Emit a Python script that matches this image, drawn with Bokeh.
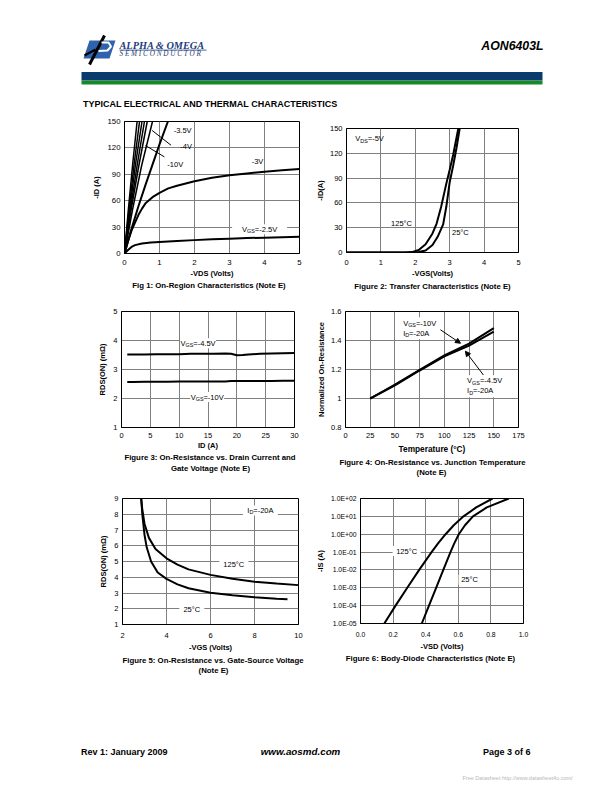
from bokeh.plotting import figure
from bokeh.layouts import column, row
from bokeh.models import Range1d, FixedTicker, Label, Arrow, NormalHead
from bokeh.embed import file_html
from bokeh.resources import INLINE
from bokeh.core.properties import value

FONT = "Liberation Sans"
SERIF = "Liberation Serif"
GRID = "#808080"

# ---------------- data ----------------
# Figure 1: On-region characteristics (-ID vs -VDS)
f1_xticks = [0, 1, 2, 3, 4, 5]
f1_yticks = [0, 30, 60, 90, 120, 150]
f1_steep_vgs = ["-10V", "-8V", "-6V", "-5V", "-4.5V", "-4V"]
f1_steep_id = [0, 50, 100, 150]
f1_steep_vds = [
    [0, 0.11, 0.23, 0.36],
    [0, 0.13, 0.27, 0.43],
    [0, 0.15, 0.31, 0.50],
    [0, 0.17, 0.36, 0.57],
    [0, 0.19, 0.41, 0.65],
    [0, 0.23, 0.49, 0.80],
]
f1_vds_35 = [0, 0.2, 0.4, 0.6, 0.8, 1.0, 1.24]
f1_id_35 = [0, 28, 54, 78, 101, 124, 150]
f1_vds_30 = [0, 0.1, 0.2, 0.3, 0.4, 0.5, 0.6, 0.8, 1, 1.25, 1.5, 2, 2.5, 3, 3.5, 4, 4.5, 5]
f1_id_30 = [0, 14, 26, 35, 44, 51, 57, 64, 69, 74, 77, 82, 86, 89, 91, 93, 94.5, 96]
f1_vds_25 = [0, 0.1, 0.2, 0.3, 0.5, 0.75, 1, 1.5, 2, 2.5, 3, 3.5, 4, 4.5, 5]
f1_id_25 = [0, 4, 7.5, 9.5, 11.3, 12.4, 13.2, 14.3, 15.2, 16.1, 16.9, 17.5, 18.0, 18.5, 19.0]

# Figure 2: Transfer characteristics (-ID vs -VGS), VDS=-5V
f2_xticks = [0, 1, 2, 3, 4, 5]
f2_yticks = [0, 30, 60, 90, 120, 150]
f2_vgs_125 = [0, 1.7, 1.9, 2.1, 2.3, 2.5, 2.62, 2.75, 2.9, 3.0, 3.1, 3.25]
f2_id_125 = [0, 0, 0.5, 3, 10, 23, 35, 55, 83, 100, 118, 150]
f2_vgs_25 = [0, 1.95, 2.1, 2.3, 2.5, 2.65, 2.81, 2.9, 3.0, 3.1, 3.2, 3.29]
f2_id_25 = [0, 0, 0.5, 2.5, 9, 19, 34, 55, 85, 105, 127, 150]

# Figure 3: On-resistance vs drain current (mOhm)
f3_xticks = [0, 5, 10, 15, 20, 25, 30]
f3_yticks = [1, 2, 3, 4, 5]
f3_id = [1, 2, 4, 6, 8, 10, 12, 14, 16, 18, 19, 20, 21, 22, 24, 26, 28, 30]
f3_r_45 = [3.52, 3.52, 3.52, 3.53, 3.53, 3.53, 3.54, 3.54, 3.54, 3.55, 3.54, 3.49, 3.50, 3.52, 3.54, 3.55, 3.56, 3.57]
f3_r_10 = [2.57, 2.57, 2.58, 2.58, 2.58, 2.59, 2.59, 2.59, 2.59, 2.59, 2.60, 2.60, 2.60, 2.60, 2.60, 2.60, 2.61, 2.61]

# Figure 4: Normalized on-resistance vs junction temperature
f4_xticks = [0, 25, 50, 75, 100, 125, 150, 175]
f4_yticks = [0.8, 1.0, 1.2, 1.4, 1.6]
f4_ylabels = ["0.8", "1", "1.2", "1.4", "1.6"]
f4_temp = [25, 50, 75, 100, 125, 150]
f4_r_10 = [1.0, 1.095, 1.198, 1.297, 1.378, 1.485]
f4_r_45 = [1.0, 1.09, 1.193, 1.29, 1.365, 1.462]

# Figure 5: On-resistance vs gate-source voltage (ID=-20A)
f5_xticks = [2, 4, 6, 8, 10]
f5_yticks = [1, 2, 3, 4, 5, 6, 7, 8, 9]
f5_vgs_125 = [2.85, 2.9, 3.0, 3.2, 3.5, 4.0, 4.5, 5, 6, 7, 8, 9, 10]
f5_r_125 = [9, 8.3, 7.4, 6.5, 5.8, 5.2, 4.8, 4.5, 4.15, 3.9, 3.72, 3.6, 3.5]
f5_vgs_25 = [2.85, 2.9, 3.0, 3.1, 3.3, 3.6, 4.0, 4.5, 5, 6, 7, 8, 9, 9.5]
f5_r_25 = [9, 8.0, 6.7, 5.9, 5.0, 4.3, 3.9, 3.55, 3.3, 3.02, 2.85, 2.73, 2.63, 2.6]

# Figure 6: Body-diode characteristics (-IS vs -VSD), log scale
f6_xticks = [0.0, 0.2, 0.4, 0.6, 0.8, 1.0]
f6_xlabels = ["0.0", "0.2", "0.4", "0.6", "0.8", "1.0"]
f6_yticks = [1e-5, 1e-4, 1e-3, 1e-2, 1e-1, 1e0, 1e1, 1e2]
f6_ylabels = ["1.0E-05", "1.0E-04", "1.0E-03", "1.0E-02", "1.0E-01", "1.0E+00", "1.0E+01", "1.0E+02"]
f6_is = [1e-5, 1e-4, 1e-3, 1e-2, 1e-1, 0.316, 1, 3.16, 10, 31.6, 100]
f6_vsd_125 = [0.146, 0.215, 0.287, 0.36, 0.436, 0.477, 0.522, 0.572, 0.632, 0.71, 0.81]
f6_vsd_25 = [0.376, 0.42, 0.464, 0.508, 0.552, 0.576, 0.603, 0.641, 0.69, 0.775, 0.91]

# ---------------- helpers ----------------
CW = {'V': .667, 'G': .778, 'S': .667, 'D': .722, 'I': .278, '=': .584, '-': .333,
      '.': .278, 'A': .667, 'C': .722, '°': .4, ' ': .278}


def tw(text, fs):
    return sum(CW.get(c, .556) for c in text) * fs


def sub_label(p, x, y, parts, fs=7.5, anchor="center"):
    sizes = [fs * 0.72 if s else fs for _, s in parts]
    widths = [tw(t, z) for (t, _), z in zip(parts, sizes)]
    off = -sum(widths) / 2 if anchor == "center" else 0
    for (t, s), z, w in zip(parts, sizes, widths):
        p.add_layout(Label(x=x, y=y, x_offset=off, y_offset=-2 if s else 0, text=t,
                           text_font=FONT, text_font_size=f"{z:.1f}px",
                           text_baseline="middle", text_align="left", text_color="black"))
        off += w


def bg(p, x, y, w, h):
    p.rect(x=[x], y=[y], width=[w], height=[h], width_units="screen", height_units="screen",
           fill_color="white", line_color=None)


def chart(w, h, bl, br, bt, bb, xr, yr, xticks, yticks, xlabel, ylabel,
          tick_fs=7.5, xl_fs=7.5, yl_fs=7.5, xso=6, xlso=2, ylog=False):
    p = figure(width=w, height=h, x_range=Range1d(*xr), y_range=Range1d(*yr),
               y_axis_type="log" if ylog else "linear", toolbar_location=None,
               output_backend="svg", title=None,
               min_border_left=bl, min_border_right=br, min_border_top=bt, min_border_bottom=bb)
    p.xaxis.ticker = FixedTicker(ticks=xticks)
    p.yaxis.ticker = FixedTicker(ticks=yticks)
    p.outline_line_color = "black"
    p.outline_line_width = 1
    p.background_fill_color = "white"
    p.border_fill_color = "white"
    for ax in p.axis:
        ax.major_tick_out = 0
        ax.major_tick_in = 0
        ax.minor_tick_out = 0
        ax.minor_tick_in = 0
        ax.axis_line_color = "black"
        ax.major_label_text_font = FONT
        ax.major_label_text_font_size = f"{tick_fs}px"
        ax.major_label_text_color = "black"
        ax.major_label_standoff = 4
        ax.axis_label_text_font = FONT
        ax.axis_label_text_font_style = "bold"
        ax.axis_label_text_color = "black"
        ax.axis_label_standoff = 3
    p.xaxis.major_label_standoff = xso
    p.xaxis.axis_label_standoff = xlso
    p.xaxis.axis_label = xlabel
    p.yaxis.axis_label = ylabel
    p.xaxis.axis_label_text_font_size = f"{xl_fs}px"
    p.yaxis.axis_label_text_font_size = f"{yl_fs}px"
    p.grid.grid_line_color = GRID
    p.grid.grid_line_width = 1
    return p


def page_fig(w, h, x0, x1, y0, y1):
    f = figure(width=w, height=h, x_range=Range1d(x0, x1), y_range=Range1d(y1, y0),
               toolbar_location=None, output_backend="svg", title=None, min_border=0)
    f.axis.visible = False
    f.grid.visible = False
    f.outline_line_color = None
    f.background_fill_color = "white"
    f.border_fill_color = "white"
    return f


CAP_FS = "7.8px"


def caption(w, h, x0, x1, y0, y1, lines):
    f = page_fig(w, h, x0, x1, y0, y1)
    for (cx, cy, t) in lines:
        f.text(x=[cx], y=[cy], text=[t], text_font=value(FONT), text_font_size=CAP_FS,
               text_font_style="bold", text_color="black", text_baseline="middle", text_align="center")
    return f


# ---------------- Figure 1 ----------------
p1 = chart(312, 165, 124, 13, 6, 27, (0, 5), (0, 150), f1_xticks, f1_yticks,
           "-VDS (Volts)", "-ID (A)", tick_fs=7.8, xso=6, xlso=1)
bg(p1, 3.86, 27.5, 55, 10)
for xs in f1_steep_vds:
    p1.line(xs, f1_steep_id, line_color="black", line_width=1.5)
p1.line(f1_vds_35, f1_id_35, line_color="black", line_width=2)
p1.line(f1_vds_30, f1_id_30, line_color="black", line_width=2)
p1.line(f1_vds_25, f1_id_25, line_color="black", line_width=2)
p1.segment(x0=[1.33, 1.14], y0=[123.0, 109.8], x1=[0.79, 0.60], y1=[139.8, 122.7],
           line_color="black", line_width=1)
sub_label(p1, 1.66, 139.8, [("-3.5V", 0)])
sub_label(p1, 1.76, 121.6, [("-4V", 0)])
sub_label(p1, 1.45, 101.0, [("-10V", 0)])
sub_label(p1, 3.80, 104.5, [("-3V", 0)])
sub_label(p1, 3.86, 27.5, [("V", 0), ("GS", 1), ("=-2.5V", 0)])
c1 = caption(312, 20, 0, 312, 280, 300, [(208.5, 284.5, "Fig 1: On-Region Characteristics (Note E)")])

# ---------------- Figure 2 ----------------
p2 = chart(296, 165, 34, 90, 13, 28, (0, 5), (0, 150), f2_xticks, f2_yticks,
           "-VGS(Volts)", "-ID(A)", xso=7, xlso=1)
p2.yaxis.axis_label_standoff = 2
p2.line(f2_vgs_125, f2_id_125, line_color="black", line_width=2)
p2.line(f2_vgs_25, f2_id_25, line_color="black", line_width=2)
sub_label(p2, 0.67, 137.9, [("V", 0), ("DS", 1), ("=-5V", 0)])
sub_label(p2, 1.60, 35.0, [("125°C", 0)])
sub_label(p2, 3.31, 24.2, [("25°C", 0)])
c2 = caption(296, 20, 312, 608, 280, 300, [(432, 285.5, "Figure 2: Transfer Characteristics (Note E)")])

# ---------------- Figure 3 ----------------
p3 = chart(312, 152, 121, 18, 11, 24, (0, 30), (1, 5), f3_xticks, f3_yticks,
           "ID (A)", "RDS(ON) (mΩ)", xso=5, xlso=0)
bg(p3, 13.27, 3.906, 36, 10)
bg(p3, 14.86, 2.05, 34, 10)
p3.line(f3_id, f3_r_45, line_color="black", line_width=2)
p3.line(f3_id, f3_r_10, line_color="black", line_width=2)
sub_label(p3, 13.27, 3.906, [("V", 0), ("GS", 1), ("=-4.5V", 0)])
sub_label(p3, 14.86, 2.05, [("V", 0), ("GS", 1), ("=-10V", 0)])
c3 = caption(312, 33, 0, 312, 452, 485, [(209.5, 456.8, "Figure 3: On-Resistance vs. Drain Current and"),
                                         (210, 468.3, "Gate Voltage (Note E)")])

# ---------------- Figure 4 ----------------
p4 = chart(296, 156, 33, 90, 11, 28, (0, 175), (0.8, 1.6), f4_xticks, f4_yticks,
           "Temperature (°C)", "Normalized On-Resistance", xl_fs=8.3, xso=5, xlso=3)
p4.yaxis.axis_label_standoff = 2
p4.yaxis.major_label_overrides = dict(zip(f4_yticks, f4_ylabels))
bg(p4, 75.3, 1.484, 40, 22)
bg(p4, 140.5, 1.084, 40, 22)
p4.line(f4_temp, f4_r_10, line_color="black", line_width=2)
p4.line(f4_temp, f4_r_45, line_color="black", line_width=2)
p4.add_layout(Arrow(end=NormalHead(size=5, fill_color="black", line_color="black"),
                    x_start=96, y_start=1.474, x_end=116.3, y_end=1.381, line_width=1))
p4.add_layout(Arrow(end=NormalHead(size=5, fill_color="black", line_color="black"),
                    x_start=139.5, y_start=1.162, x_end=121.3, y_end=1.326, line_width=1))
sub_label(p4, 58.3, 1.518, [("V", 0), ("GS", 1), ("=-10V", 0)], anchor="left")
sub_label(p4, 58.3, 1.450, [("I", 0), ("D", 1), ("=-20A", 0)], anchor="left")
sub_label(p4, 123.0, 1.121, [("V", 0), ("GS", 1), ("=-4.5V", 0)], anchor="left")
sub_label(p4, 123.0, 1.053, [("I", 0), ("D", 1), ("=-20A", 0)], anchor="left")
c4 = caption(296, 29, 312, 608, 456, 485, [(432, 461.7, "Figure 4: On-Resistance vs. Junction Temperature"),
                                           (431, 471.7, "(Note E)")])

# ---------------- Figure 5 ----------------
p5 = chart(312, 170, 122, 14, 13, 31, (2, 10), (1, 9), f5_xticks, f5_yticks,
           "-VGS (Volts)", "RDS(ON) (mΩ)", xso=8, xlso=2)
bg(p5, 8.27, 8.24, 35, 10)
bg(p5, 7.06, 4.81, 29, 10)
bg(p5, 5.15, 1.95, 25, 10)
p5.line(f5_vgs_125, f5_r_125, line_color="black", line_width=2)
p5.line(f5_vgs_25, f5_r_25, line_color="black", line_width=2)
sub_label(p5, 8.27, 8.24, [("I", 0), ("D", 1), ("=-20A", 0)])
sub_label(p5, 7.06, 4.81, [("125°C", 0)])
sub_label(p5, 5.15, 1.95, [("25°C", 0)])
c5 = caption(312, 35, 0, 312, 655, 690, [(212.5, 660, "Figure 5: On-Resistance vs. Gate-Source Voltage"),
                                         (213, 670, "(Note E)")])

# ---------------- Figure 6 ----------------
p6 = chart(296, 168, 45, 85, 13, 29, (0, 1), (1e-5, 1e2), f6_xticks, f6_yticks,
           "-VSD (Volts)", "-IS (A)", tick_fs=6.8, xso=8, xlso=2, ylog=True)
p6.xaxis.major_label_overrides = dict(zip(f6_xticks, f6_xlabels))
p6.yaxis.major_label_overrides = dict(zip(f6_yticks, f6_ylabels))
bg(p6, 0.283, 0.1137, 28, 10)
bg(p6, 0.669, 0.00278, 22, 10)
p6.line(f6_vsd_125, f6_is, line_color="black", line_width=2)
p6.line(f6_vsd_25, f6_is, line_color="black", line_width=2)
sub_label(p6, 0.283, 0.1137, [("125°C", 0)])
sub_label(p6, 0.669, 0.00278, [("25°C", 0)])
c6 = caption(296, 37, 312, 608, 653, 690, [(430, 658.3, "Figure 6: Body-Diode Characteristics (Note E)")])

# ---------------- header ----------------
hdr = page_fig(608, 115, 0, 608, 0, 115)
hdr.patch([83, 89, 115, 109], [58, 40, 40, 58], fill_color="#2f63ae", line_color=None)
hdr.line([89, 104], [64, 35], line_color="black", line_width=3)
hdr.line([84, 95], [55, 49], line_color="black", line_width=2)
hdr.line([101, 108, 110.5, 107, 98], [42, 42, 46, 50, 50.5], line_color="white", line_width=2)
hdr.text(x=[119], y=[45], text=["ALPHA & OMEGA"], text_font=value(SERIF), text_font_size="10.3px",
         text_font_style="bold italic", text_color="#1d3b7a", text_baseline="middle")
hdr.line([119, 206], [49.6, 49.6], line_color="#1d3b7a", line_width=0.8)
hdr.text(x=[119], y=[53.5], text=["S E M I C O N D U C T O R"], text_font=value(SERIF),
         text_font_size="7.2px", text_font_style="italic", text_color="#1d3b7a", text_baseline="middle")
hdr.text(x=[543], y=[45], text=["AON6403L"], text_font=value(FONT), text_font_size="12.3px",
         text_font_style="bold italic", text_color="black", text_baseline="middle", text_align="right")
hdr.quad(left=[81], right=[542], top=[71.5], bottom=[80], fill_color="#0b3a6c", line_color=None)
hdr.quad(left=[81], right=[542], top=[80], bottom=[84], fill_color="#17892b", line_color=None)
hdr.text(x=[82.5], y=[103], text=["TYPICAL ELECTRICAL AND THERMAL CHARACTERISTICS"],
         text_font=value(FONT), text_font_size="9px", text_font_style="bold",
         text_color="black", text_baseline="middle")

# ---------------- footer ----------------
ftr = page_fig(608, 94, 0, 608, 690, 784)
ftr.text(x=[80.5], y=[751], text=["Rev 1: January 2009"], text_font=value(FONT), text_font_size="9px",
         text_font_style="bold", text_color="black", text_baseline="middle")
ftr.text(x=[300], y=[751], text=["www.aosmd.com"], text_font=value(FONT), text_font_size="9.8px",
         text_font_style="bold italic", text_color="black", text_baseline="middle", text_align="center")
ftr.text(x=[530], y=[751], text=["Page 3 of 6"], text_font=value(FONT), text_font_size="9px",
         text_font_style="bold", text_color="black", text_baseline="middle", text_align="right")
ftr.text(x=[462], y=[777], text=["Free Datasheet http://www.datasheet4u.com/"], text_font=value(FONT),
         text_font_size="5.5px", text_color="#b8b8b8", text_baseline="middle")


def solo(f):
    # wrap each figure on its own so that sibling frames are not aligned
    return row(f)


left_col = column(*[solo(f) for f in (p1, c1, p3, c3, p5, c5)])
right_col = column(*[solo(f) for f in (p2, c2, p4, c4, p6, c6)])
layout = column(solo(hdr), row(left_col, right_col), solo(ftr))
open("out.html", "w").write(file_html(layout, INLINE))
